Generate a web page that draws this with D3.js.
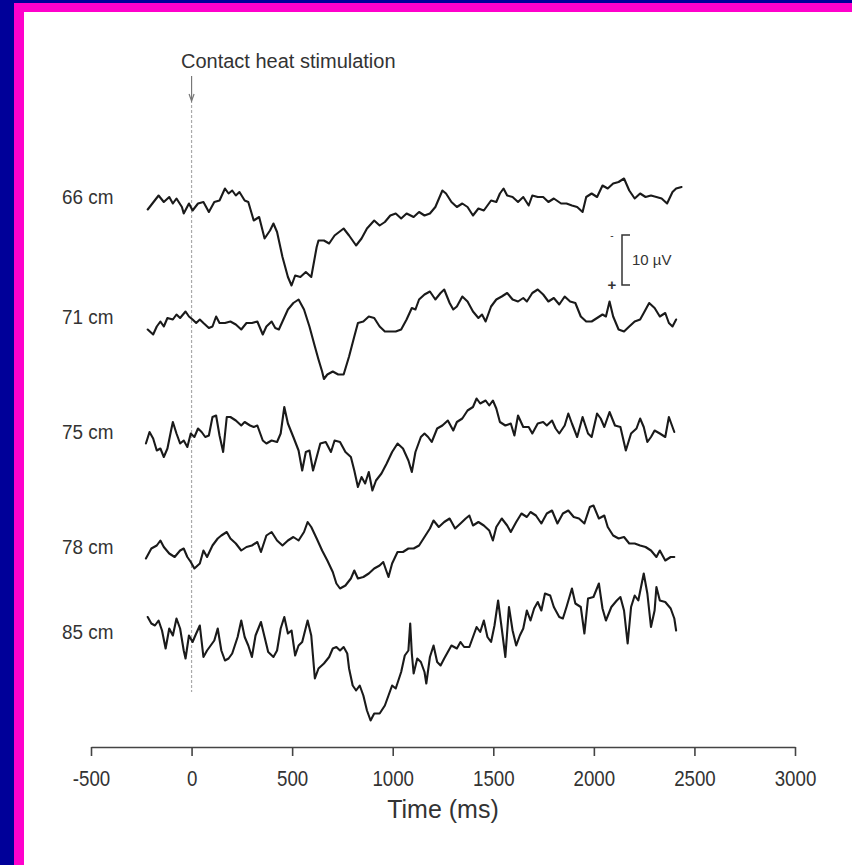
<!DOCTYPE html>
<html>
<head>
<meta charset="utf-8">
<script src="https://cdn.jsdelivr.net/npm/d3@7"></script>
<style>
  body { margin: 0; background: #fff; }
  text { font-family: "Liberation Sans", Arial, sans-serif; fill: #333; }
</style>
</head>
<body>
<script>
// ---- data (time in ms, amplitude in microvolts, positive plotted downwards) ----
var traceLabels = ["66 cm", "71 cm", "75 cm", "78 cm", "85 cm"];

var t66 = [-218,-164,-138,-111,-93,-75,-48,-39,-13,5,32,59,86,113,139,166,184,202,220,238,264,282,309,336,363,390,407,425,452,479,497,515,541,568,595,622,631,658,684,711,756,783,818,845,872,908,935,961,988,1015,1042,1069,1104,1131,1158,1185,1212,1247,1265,1292,1319,1346,1372,1399,1426,1453,1489,1515,1533,1551,1569,1596,1623,1649,1676,1694,1721,1748,1774,1801,1837,1864,1891,1917,1944,1962,1989,2016,2043,2069,2096,2123,2150,2176,2203,2230,2257,2284,2311,2337,2364,2391,2409,2436];
var v66 = [1.5,-1.3,0,-1.0,0.3,-0.7,1.0,2.3,0.3,1.7,0.3,0,2.0,0,-0.3,-2.7,-1.7,-2.3,-1.3,-2.0,-0.3,0,3.7,3.0,7.3,5.7,4.3,6.0,11.0,15.0,16.7,14.7,15.0,14.0,15.0,9.0,7.7,7.7,8.3,6.7,5.3,6.7,8.7,7.3,5.3,3.7,4.7,4.0,2.7,2.3,3.3,2.3,3.0,2.0,2.7,2.3,1.0,-2.3,-1.7,0,1.0,0.3,1.0,2.7,1.3,1.7,-0.3,0,-1.7,-2.7,-1.3,-1.0,0,-1.0,0.7,-1.3,-1.0,-1.0,0,-0.7,0.3,0.3,0.7,1.0,2.0,-1.0,-1.7,-1.0,-3.3,-2.7,-3.7,-4.0,-4.7,-2.3,-0.7,-1.7,-1.0,-1.3,-1.0,-0.7,0.3,-2.0,-2.7,-3.0];

var t71 = [-218,-191,-173,-155,-138,-120,-93,-75,-57,-30,-13,5,23,41,59,86,104,122,139,166,193,220,247,273,300,327,354,372,398,416,434,452,479,506,532,559,586,613,631,649,658,675,702,729,756,783,809,827,854,881,908,935,961,988,1015,1042,1069,1095,1113,1131,1158,1185,1212,1238,1256,1283,1301,1319,1346,1372,1399,1426,1444,1462,1489,1515,1542,1569,1596,1623,1649,1667,1694,1721,1748,1774,1801,1828,1855,1882,1908,1935,1962,1989,2016,2043,2060,2078,2096,2123,2150,2176,2203,2230,2248,2275,2302,2328,2355,2373,2391,2409];
var v71 = [1.5,2.5,0.9,-0.1,0.9,-0.8,-0.5,-1.5,-0.8,-2.1,-1.1,-0.5,0.2,-0.5,0.2,1.2,0.9,-1.1,0.2,0.2,-0.1,0.5,1.5,0.2,0.2,-0.1,2.5,0.9,-0.1,1.2,1.5,-0.1,-2.5,-3.8,-4.5,-2.5,0.9,4.9,7.5,9.9,11.4,10.5,9.9,10.5,10.5,6.9,2.9,0.2,-0.1,-1.1,-0.8,0.9,1.9,1.9,1.9,1.5,-0.5,-2.8,-2.5,-4.5,-5.5,-6.1,-4.5,-5.8,-6.5,-3.8,-2.5,-3.1,-5.1,-4.1,-2.1,-0.8,-1.5,-0.1,-3.1,-4.5,-5.1,-5.8,-4.5,-4.1,-4.8,-4.1,-5.8,-6.5,-5.5,-4.1,-4.8,-3.5,-5.1,-4.1,-3.8,-1.1,-0.1,-0.1,-0.8,-1.5,-1.1,-4.1,-1.1,1.5,1.9,0.9,-0.1,-0.5,-1.8,-3.8,-2.8,-1.1,-1.8,0.2,0.9,-0.5];

var t75 = [-227,-209,-191,-173,-155,-138,-120,-102,-93,-75,-57,-39,-21,-4,14,32,50,68,86,104,122,139,157,175,193,220,247,264,291,309,327,354,372,398,425,443,461,479,506,532,550,568,586,604,622,640,667,693,711,738,765,792,809,827,845,863,881,899,917,944,970,997,1024,1051,1078,1095,1113,1140,1158,1176,1194,1221,1247,1274,1301,1319,1346,1372,1399,1417,1435,1462,1480,1498,1515,1533,1560,1587,1605,1623,1649,1676,1694,1721,1748,1766,1792,1810,1828,1855,1873,1891,1917,1944,1971,1989,2016,2034,2052,2078,2105,2132,2159,2185,2212,2230,2248,2266,2284,2302,2328,2355,2373,2400];
var v75 = [1.3,-1.0,0.3,2.7,2.3,4.0,2.3,-1.3,-3.0,-0.7,1.3,0.7,2.0,-0.7,0,-1.7,-1.0,0,-0.3,-4.0,-4.3,-0.3,3.0,-4.0,-4.0,-3.3,-2.3,-3.0,-2.3,-2.0,-2.3,0.7,1.3,0.7,1.0,-0.7,-6.0,-2.7,0,2.7,6.7,3.0,2.7,6.7,4.0,1.3,1.0,3.0,0.7,1.0,3.0,4.0,6.7,10.0,8.0,9.3,7.0,10.7,8.7,7.3,5.3,3.0,1.3,2.3,4.7,7.0,3.0,0,-0.7,0,1.0,-1.7,-2.3,-3.3,-1.3,-3.0,-3.7,-5.3,-6.0,-7.7,-6.7,-7.3,-6.3,-7.3,-5.7,-3.0,-2.3,-2.7,-0.3,-4.3,-2.0,-2.0,-0.7,-2.7,-3.0,-2.3,-3.3,-1.7,-0.7,-2.3,-4.7,-2.7,0,-4.0,-0.7,0,-4.7,-3.7,-2.0,-5.0,-2.3,-2.0,2.7,-0.7,-1.7,-3.7,-2.0,1.0,0,-1.3,-0.7,0,-4.0,-1.0];

var t78 = [-227,-200,-173,-155,-138,-111,-84,-57,-39,-21,-4,14,41,59,77,104,130,148,175,193,220,247,273,300,327,345,372,398,425,452,479,506,532,559,577,595,622,649,675,702,720,738,765,792,809,827,854,881,908,935,953,979,997,1024,1051,1078,1104,1131,1158,1185,1203,1229,1256,1283,1310,1337,1363,1381,1399,1426,1453,1480,1498,1515,1542,1569,1587,1614,1640,1667,1685,1712,1739,1766,1792,1819,1846,1873,1900,1926,1953,1980,1998,2025,2052,2069,2096,2123,2150,2176,2203,2230,2257,2284,2311,2328,2355,2382,2400];
var v78 = [1.3,-0.7,-1.3,-2.3,-1.0,0.3,1.0,-0.3,-0.7,1.0,2.0,3.3,2.3,-0.3,1.0,-1.3,-2.7,-3.3,-4.0,-2.7,-1.7,-0.3,-1.0,-1.3,-2.0,0,-3.3,-4.0,-2.3,-1.3,-2.3,-3.0,-2.3,-4.0,-6.0,-5.0,-2.7,-0.3,1.7,4.0,6.3,7.3,6.7,5.3,3.7,5.3,5.0,4.3,3.3,2.7,2.0,5.0,2.3,0,0,-0.7,-0.7,-1.3,-3.0,-4.7,-6.3,-5.0,-6.0,-6.7,-4.7,-5.7,-6.7,-7.3,-5.3,-6.0,-5.3,-4.3,-2.3,-5.0,-6.7,-5.3,-4.0,-6.0,-7.7,-7.0,-8.0,-7.3,-5.7,-7.7,-8.3,-5.7,-7.7,-8.3,-7.0,-6.7,-5.7,-9.0,-9.3,-6.7,-7.3,-5.0,-3.3,-2.7,-3.0,-1.7,-1.7,-1.3,-1.0,-0.3,1.0,-0.3,1.7,1.0,1.0];

var t85 = [-218,-200,-182,-164,-147,-129,-111,-93,-75,-57,-39,-30,-13,5,23,41,59,77,95,113,130,148,166,184,202,229,247,264,282,300,318,345,363,381,407,425,443,461,479,497,515,532,550,577,595,613,631,658,684,702,720,738,756,774,783,801,818,836,854,872,890,908,935,961,979,997,1015,1042,1060,1078,1087,1095,1104,1122,1140,1158,1167,1185,1203,1221,1238,1256,1274,1292,1319,1337,1355,1381,1399,1417,1435,1453,1471,1489,1506,1524,1542,1560,1578,1596,1614,1632,1649,1667,1685,1703,1721,1739,1757,1783,1801,1828,1846,1864,1891,1908,1935,1953,1971,1998,2025,2043,2060,2087,2114,2132,2150,2168,2185,2203,2221,2248,2266,2284,2302,2311,2328,2355,2382,2400,2409];
var v85 = [-4.0,-2.7,-2.3,-3.3,-1.3,2.3,-1.7,-0.3,-3.7,-1.7,2.7,4.3,-0.3,1.0,-0.7,-2.3,4.0,2.7,1.7,0.7,-1.7,2.7,4.7,4.3,3.3,0,-3.3,0,1.7,4.0,-0.3,-3.0,0,3.0,4.0,2.7,-1.7,-4.0,-0.7,-1.3,3.7,1.7,1.0,-3.3,-0.3,8.3,6.3,5.3,4.0,2.3,2.0,2.7,2.0,3.3,6.3,9.7,10.7,9.7,11.7,14.7,16.7,15.3,15.3,13.7,11.7,9.7,10.3,7.0,3.7,2.7,-2.7,3.3,7.3,4.3,5.0,7.0,9.3,4.0,1.7,5.0,5.7,4.3,3.0,1.7,2.3,1.0,2.0,2.0,0,-2.0,-1.0,-3.3,0,1.0,-2.3,-7.3,-1.7,4.0,-6.0,-1.3,1.7,-0.3,-1.7,-5.3,-3.3,-5.7,-7.0,-5.3,-8.7,-8.3,-6.0,-4.0,-3.7,-6.0,-9.7,-6.7,-6.0,-0.7,-7.7,-8.0,-10.7,-5.7,-3.3,-6.0,-7.3,-8.0,-5.3,1.3,-6.0,-8.3,-7.3,-12.7,-8.7,-2.0,-5.3,-10.0,-7.3,-7.0,-5.7,-3.7,-1.3];

var traceTimes = [t66, t71, t75, t78, t85];
var traceValues = [v66, v71, v75, v78, v85];

var xTicks = [-500, 0, 500, 1000, 1500, 2000, 2500, 3000];
var scaleBarValue = 10;

// ---- layout ----
var svgWidth = 852;
var svgHeight = 865;
var traceBaselines = [202, 322, 437, 552, 637];

var svg = d3.select("body")
  .append("svg")
  .attr("width", svgWidth)
  .attr("height", svgHeight);

// page frame: navy outside, magenta inside
svg.append("rect").attr("width", svgWidth).attr("height", svgHeight).attr("fill", "#fff");
svg.append("rect").attr("x", 0).attr("y", 0).attr("width", 14).attr("height", svgHeight).attr("fill", "#000099");
svg.append("rect").attr("x", 0).attr("y", 0).attr("width", svgWidth).attr("height", 3).attr("fill", "#000099");
svg.append("rect").attr("x", 14).attr("y", 3).attr("width", svgWidth - 14).attr("height", 9).attr("fill", "#ff00cc");
svg.append("rect").attr("x", 14).attr("y", 3).attr("width", 10).attr("height", svgHeight - 3).attr("fill", "#ff00cc");

var xScale = d3.scaleLinear()
  .domain([-500, 3000])
  .range([91, 795]);

// microvolts -> pixels (positive down)
var ampScale = d3.scaleLinear()
  .domain([0, 10])
  .range([0, 50]);

// stimulus marker (dotted line at t = 0)
svg.append("line")
  .attr("x1", xScale(0)).attr("x2", xScale(0))
  .attr("y1", 100).attr("y2", 692)
  .attr("stroke", "#aaa")
  .attr("stroke-width", 1.2)
  .attr("stroke-dasharray", "3,2");

svg.append("text")
  .attr("x", 181)
  .attr("y", 68)
  .attr("font-size", 20)
  .text("Contact heat stimulation");

svg.append("line")
  .attr("x1", xScale(0)).attr("x2", xScale(0))
  .attr("y1", 76).attr("y2", 100)
  .attr("stroke", "#777")
  .attr("stroke-width", 1.2);
svg.append("path")
  .attr("d", `M${xScale(0) - 2.5},94 L${xScale(0)},101 L${xScale(0) + 2.5},94`)
  .attr("fill", "none")
  .attr("stroke", "#777")
  .attr("stroke-width", 1.2);

// traces
var line = d3.line()
  .x(d => xScale(d[0]))
  .y(d => d[2] + ampScale(d[1]))
  .curve(d3.curveLinear);

traceLabels.forEach(function (label, i) {
  var pts = d3.zip(traceTimes[i], traceValues[i]).map(p => [p[0], p[1], traceBaselines[i]]);
  svg.append("path")
    .datum(pts)
    .attr("d", line)
    .attr("fill", "none")
    .attr("stroke", "#1a1a1a")
    .attr("stroke-width", 2.1)
    .attr("stroke-linejoin", "round")
    .attr("stroke-linecap", "round");

  svg.append("text")
    .attr("x", 62)
    .attr("y", traceBaselines[i] + 2)
    .attr("font-size", 21)
    .attr("transform", `translate(62,0) scale(0.9,1) translate(-62,0)`)
    .text(label);
});

// scale bar
var barX = 622, barBottom = 285;
var barTop = barBottom - ampScale(scaleBarValue);
svg.append("path")
  .attr("d", `M${barX + 8},${barTop} H${barX} V${barBottom} H${barX + 8}`)
  .attr("fill", "none")
  .attr("stroke", "#333")
  .attr("stroke-width", 1.5);
svg.append("text").attr("x", barX + 10).attr("y", (barTop + barBottom) / 2 + 5)
  .attr("font-size", 15).text(scaleBarValue + " \u00b5V");
svg.append("text").attr("x", barX - 10).attr("y", barTop + 4)
  .attr("font-size", 10).attr("text-anchor", "middle").text("-");
svg.append("text").attr("x", barX - 10).attr("y", barBottom + 5)
  .attr("font-size", 15).attr("font-weight", "bold").attr("text-anchor", "middle").text("+");

// x axis
var xAxis = d3.axisBottom(xScale)
  .tickValues(xTicks)
  .tickSize(9)
  .tickSizeOuter(0)
  .tickFormat(d => String(d));

var axisG = svg.append("g")
  .attr("transform", "translate(0,747)")
  .call(xAxis);

axisG.select(".domain").attr("stroke", "#444").attr("stroke-width", 1.6);
axisG.selectAll(".tick line").attr("stroke", "#444").attr("stroke-width", 1.6);
axisG.selectAll(".tick text")
  .attr("y", 39)
  .attr("dy", null)
  .attr("font-size", 22)
  .attr("font-family", "Liberation Sans, Arial, sans-serif")
  .attr("fill", "#333")
  .attr("transform", "scale(0.85,1)");

svg.append("text")
  .attr("x", xScale(1250))
  .attr("y", 818)
  .attr("text-anchor", "middle")
  .attr("font-size", 25)
  .text("Time (ms)");
</script>
</body>
</html>
